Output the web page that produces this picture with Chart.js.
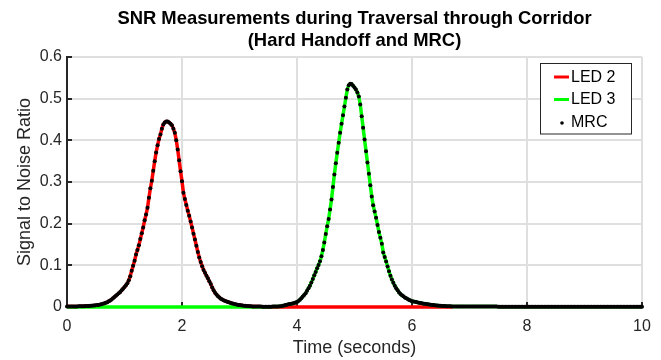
<!DOCTYPE html>
<html>
<head>
<meta charset="utf-8">
<script src="https://cdn.jsdelivr.net/npm/chart.js@4"></script>
<style>
  html, body { margin: 0; padding: 0; background: #fff; }
  canvas { display: block; }
</style>
</head>
<body>
<canvas id="c" width="661" height="360"></canvas>
<script>
// ---- data ----
const titleLines = ['SNR Measurements during Traversal through Corridor', '(Hard Handoff and MRC)'];
const xLabel = 'Time (seconds)';
const yLabel = 'Signal to Noise Ratio';
const seriesNames = ['LED 2', 'LED 3', 'MRC'];
const xTicks = [0, 2, 4, 6, 8, 10];
const yTicks = [0, 0.1, 0.2, 0.3, 0.4, 0.5, 0.6];
const sampleStep = 0.025;          // seconds between samples
const handoffTimes = [3.5, 6.7];   // LED 2 -> LED 3 -> next LED

// LED 2 SNR, t = 0 .. 3.5 s
const led2Snr = [
  .001,.001,.001,.001,.001,.0012,.0013,.0014,.0015,.0016,.0017,.0018,.002,.0021,.0023,.0025,.0027,.003,.0033,.0037,
  .004,.0045,.005,.0057,.0065,.0075,.0087,.010,.0115,.0135,.0155,.018,.021,.024,.027,.030,.033,.036,.040,.044,
  .048,.052,.057,.064,.074,.087,.099,.111,.126,.137,.148,.163,.177,.191,.208,.222,.238,.262,.285,.303,
  .327,.350,.371,.388,.403,.414,.428,.438,.443,.445,.445,.443,.440,.436,.428,.418,.400,.378,.352,.326,
  .302,.274,.259,.245,.231,.219,.205,.191,.176,.162,.147,.132,.119,.108,.098,.089,.082,.075,.069,.062,
  .055,.047,.040,.034,.030,.026,.023,.020,.018,.016,.0145,.0133,.012,.011,.0095,.0085,.0075,.0065,.0057,.005,
  .0045,.004,.0035,.003,.0027,.0024,.0021,.0018,.0016,.0014,.0013,.0012,.0011,.001,.001,.0009,.0008,.0008,.0007,.0007,
  .0006
];

// LED 3 SNR, t = 3.5 .. 10 s
const led3Snr = [
  .0006,.0007,.0008,.0009,.001,.0011,.0012,.0014,.0016,.002,.0028,.0037,.0047,.0056,.0064,.0072,.0079,.0086,.0093,.0105,
  .012,.0145,.0175,.021,.025,.029,.033,.039,.045,.051,.059,.067,.076,.084,.093,.101,.110,.122,.137,.155,
  .175,.194,.211,.234,.258,.288,.318,.345,.370,.394,.418,.440,.460,.481,.502,.522,.532,.536,.535,.531,
  .527,.522,.515,.505,.486,.458,.430,.402,.374,.347,.320,.292,.265,.244,.229,.214,.197,.180,.166,.152,
  .131,.120,.109,.097,.086,.075,.066,.058,.051,.045,.040,.035,.031,.028,.0255,.023,.021,.019,.017,.0155,
  .014,.0133,.0125,.0118,.011,.0103,.0095,.0088,.008,.0075,.007,.0065,.006,.0055,.005,.0045,.004,.0037,.0034,.0031,
  .0028,.0026,.0024,.0022,.002,.0018,.0016,.0015,.0014,.0013,.0012,.0012,.0011,.0011,.001,.001,.001,.001,.0009,.0009,
  .0009,.0009,.0009,.0009,.0009,.0009,.0009,.0009,.0009,.0009,.0009,.0009,.0009,.0009,.0009,.0009,.0009,.0009,.0009,.0009,
  .0008,.0008,.0008,.0008,.0008,.0008,.0008,.0008,.0008,.0008,.0008,.0008,.0008,.0008,.0008,.0008,.0008,.0008,.0008,.0008,
  .0008,.0008,.0008,.0008,.0008,.0008,.0008,.0008,.0008,.0008,.0008,.0008,.0008,.0008,.0008,.0008,.0008,.0008,.0008,.0008,
  .0007,.0007,.0007,.0007,.0007,.0007,.0007,.0007,.0007,.0007,.0007,.0007,.0007,.0007,.0007,.0007,.0007,.0007,.0007,.0007,
  .0007,.0007,.0007,.0007,.0007,.0007,.0007,.0007,.0007,.0007,.0007,.0007,.0007,.0007,.0007,.0007,.0007,.0007,.0007,.0007,
  .0006,.0006,.0006,.0006,.0006,.0006,.0006,.0006,.0006,.0006,.0006,.0006,.0006,.0006,.0006,.0006,.0006,.0006,.0006,.0006,
  .0006
];

// MRC SNR, t = 0 .. 10 s
const mrcSnr = [
  .001,.001,.001,.001,.001,.0012,.0013,.0014,.0015,.0016,.0017,.0018,.002,.0021,.0023,.0025,.0027,.003,.0033,.0037,
  .004,.0045,.005,.0057,.0065,.0075,.0087,.010,.0115,.0135,.0155,.018,.021,.024,.027,.030,.033,.036,.040,.044,
  .048,.052,.057,.064,.074,.087,.099,.111,.126,.137,.148,.163,.177,.191,.208,.222,.238,.262,.285,.303,
  .327,.350,.371,.388,.403,.414,.428,.438,.443,.445,.445,.443,.440,.436,.428,.418,.400,.378,.352,.326,
  .302,.274,.259,.245,.231,.219,.205,.191,.176,.162,.147,.132,.119,.108,.098,.089,.082,.075,.069,.062,
  .055,.047,.040,.034,.030,.026,.023,.020,.018,.016,.0145,.0133,.012,.011,.0095,.0085,.0075,.0065,.0057,.005,
  .0045,.004,.0035,.003,.0027,.0024,.0021,.0018,.0016,.0014,.0013,.0012,.0011,.001,.001,.0009,.0008,.0008,.0007,.0007,
  .0006,.0007,.0008,.0009,.001,.0011,.0012,.0014,.0016,.002,.0028,.0037,.0047,.0056,.0064,.0072,.0079,.0086,.0093,.0105,
  .012,.0145,.0175,.021,.025,.029,.033,.039,.045,.051,.059,.067,.076,.084,.093,.101,.110,.122,.137,.155,
  .175,.194,.211,.234,.258,.288,.318,.345,.370,.394,.418,.440,.460,.481,.502,.522,.532,.536,.535,.531,
  .527,.522,.515,.505,.486,.458,.430,.402,.374,.347,.320,.292,.265,.244,.229,.214,.197,.180,.166,.152,
  .131,.120,.109,.097,.086,.075,.066,.058,.051,.045,.040,.035,.031,.028,.0255,.023,.021,.019,.017,.0155,
  .014,.0133,.0125,.0118,.011,.0103,.0095,.0088,.008,.0075,.007,.0065,.006,.0055,.005,.0045,.004,.0037,.0034,.0031,
  .0028,.0026,.0024,.0022,.002,.0018,.0016,.0015,.0014,.0013,.0012,.0012,.0011,.0011,.001,.001,.001,.001,.0009,.0009,
  .0009,.0009,.0009,.0009,.0009,.0009,.0009,.0009,.0009,.0009,.0009,.0009,.0009,.0009,.0009,.0009,.0009,.0009,.0009,.0009,
  .0008,.0008,.0008,.0008,.0008,.0008,.0008,.0008,.0008,.0008,.0008,.0008,.0008,.0008,.0008,.0008,.0008,.0008,.0008,.0008,
  .0008,.0008,.0008,.0008,.0008,.0008,.0008,.0008,.0008,.0008,.0008,.0008,.0008,.0008,.0008,.0008,.0008,.0008,.0008,.0008,
  .0007,.0007,.0007,.0007,.0007,.0007,.0007,.0007,.0007,.0007,.0007,.0007,.0007,.0007,.0007,.0007,.0007,.0007,.0007,.0007,
  .0007,.0007,.0007,.0007,.0007,.0007,.0007,.0007,.0007,.0007,.0007,.0007,.0007,.0007,.0007,.0007,.0007,.0007,.0007,.0007,
  .0006,.0006,.0006,.0006,.0006,.0006,.0006,.0006,.0006,.0006,.0006,.0006,.0006,.0006,.0006,.0006,.0006,.0006,.0006,.0006,
  .0006
];

// ---- build library data from the arrays ----
const led2Points = led2Snr.map((v, i) => ({ x: i * sampleStep, y: v }))
  .concat([{ x: handoffTimes[0], y: 0 }, { x: handoffTimes[1], y: 0 }]);
const led3Points = [{ x: 0, y: 0 }, { x: handoffTimes[0], y: 0 }]
  .concat(led3Snr.map((v, j) => ({ x: handoffTimes[0] + j * sampleStep, y: v })));
const mrcPoints = mrcSnr.map((v, i) => ({ x: i * sampleStep, y: v }));

const FONT = "'Liberation Sans', Arial, Helvetica, sans-serif";
const AXIS_COLOR = '#262626';

// inward tick marks (MATLAB style)
const inwardTicks = {
  id: 'inwardTicks',
  beforeDatasetsDraw(chart) {
    const { ctx, chartArea, scales } = chart;
    ctx.save();
    ctx.strokeStyle = AXIS_COLOR;
    ctx.lineWidth = 2;
    ctx.beginPath();
    scales.y.ticks.forEach(t => {
      const py = Math.round(scales.y.getPixelForValue(t.value));
      ctx.moveTo(chartArea.left, py);
      ctx.lineTo(chartArea.left + 5, py);
    });
    scales.x.ticks.forEach(t => {
      const px = Math.round(scales.x.getPixelForValue(t.value));
      ctx.moveTo(px, chartArea.bottom);
      ctx.lineTo(px, chartArea.bottom - 5);
    });
    ctx.stroke();
    ctx.restore();
  }
};

// legend box inside the plot, top right
const insetLegend = {
  id: 'insetLegend',
  afterDatasetsDraw(chart) {
    const { ctx, chartArea } = chart;
    const w = 91, h = 70.5;
    const x0 = Math.round(chartArea.right - 102), y0 = Math.round(chartArea.top + 6);
    ctx.save();
    ctx.fillStyle = '#ffffff';
    ctx.fillRect(x0, y0, w, h);
    ctx.strokeStyle = AXIS_COLOR;
    ctx.lineWidth = 1;
    ctx.strokeRect(x0 + 0.5, y0 + 0.5, w, h);
    ctx.font = '16px ' + FONT;
    ctx.textBaseline = 'middle';
    ctx.textAlign = 'left';
    chart.data.datasets.forEach((ds, i) => {
      const cy = y0 + 14 + i * 22.5;
      if (ds.showLine === false) {
        ctx.fillStyle = ds.pointBackgroundColor;
        ctx.beginPath();
        ctx.arc(x0 + 22, cy + 1, 1.8, 0, Math.PI * 2);
        ctx.fill();
      } else {
        ctx.strokeStyle = ds.borderColor;
        ctx.lineWidth = 3;
        ctx.beginPath();
        ctx.moveTo(x0 + 14, cy);
        ctx.lineTo(x0 + 29, cy);
        ctx.stroke();
      }
      ctx.fillStyle = '#000';
      ctx.fillText(ds.label, x0 + 31, cy + 0.5);
    });
    ctx.restore();
  }
};

new Chart(document.getElementById('c'), {
  type: 'line',
  data: {
    datasets: [
      { label: seriesNames[0], data: led2Points, borderColor: '#ff0000', backgroundColor: '#ff0000',
        borderWidth: 3.5, pointRadius: 0, tension: 0, order: 3, clip: 6, borderJoinStyle: 'round' },
      { label: seriesNames[1], data: led3Points, borderColor: '#00ff00', backgroundColor: '#00ff00',
        borderWidth: 3.5, pointRadius: 0, tension: 0, order: 2, clip: 6, borderJoinStyle: 'round' },
      { label: seriesNames[2], data: mrcPoints, showLine: false, pointRadius: 2, pointHoverRadius: 0,
        pointBackgroundColor: '#000000', pointBorderWidth: 0, borderColor: '#000000', order: 1, clip: 6 }
    ]
  },
  options: {
    responsive: false,
    animation: false,
    devicePixelRatio: 1,
    events: [],
    layout: { padding: { top: 0, right: 19, bottom: 0, left: 0 } },
    plugins: {
      legend: { display: false },
      tooltip: { enabled: false },
      title: {
        display: true, fullSize: false, text: titleLines, color: '#000',
        font: { family: FONT, size: 18.4, weight: 'bold', lineHeight: 1.2 },
        padding: { top: 8, bottom: 4.8 }
      }
    },
    scales: {
      x: {
        type: 'linear', min: xTicks[0], max: xTicks[xTicks.length - 1],
        afterBuildTicks: s => { s.ticks = xTicks.map(v => ({ value: v })); },
        ticks: { padding: 10, color: AXIS_COLOR, font: { family: FONT, size: 16 }, maxRotation: 0, autoSkip: false,
                 callback: v => String(v) },
        grid: { color: '#dfdfdf', lineWidth: 2, drawTicks: false },
        border: { color: AXIS_COLOR, width: 2 },
        title: { display: true, text: xLabel, color: AXIS_COLOR, font: { family: FONT, size: 18 }, padding: { top: 0, bottom: 1 } },
        afterFit: s => { s.height = 53; }
      },
      y: {
        type: 'linear', min: yTicks[0], max: yTicks[yTicks.length - 1],
        afterBuildTicks: s => { s.ticks = yTicks.map(v => ({ value: v })); },
        ticks: { padding: 5, color: AXIS_COLOR, font: { family: FONT, size: 16 }, autoSkip: false,
                 callback: v => (v === 0 ? '0' : v.toFixed(1)) },
        grid: { color: '#dfdfdf', lineWidth: 2, drawTicks: false },
        border: { color: AXIS_COLOR, width: 2 },
        title: { display: true, text: yLabel, color: AXIS_COLOR, font: { family: FONT, size: 18 }, padding: { top: 14.5, bottom: 0 } },
        afterFit: s => { s.width = 67; }
      }
    }
  },
  plugins: [inwardTicks, insetLegend]
});
</script>
</body>
</html>
